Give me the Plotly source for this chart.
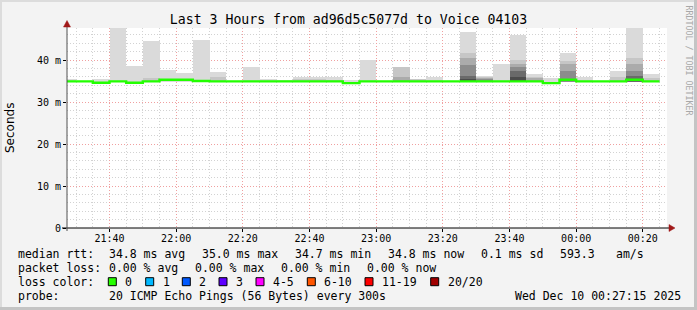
import plotly.graph_objects as go
import pandas as pd

# ---------------- data ----------------
title_text = "Last 3 Hours from ad96d5c5077d to Voice 04103"
step_starts = [
    "2025-12-09 21:25", "2025-12-09 21:30", "2025-12-09 21:35", "2025-12-09 21:40",
    "2025-12-09 21:45", "2025-12-09 21:50", "2025-12-09 21:55", "2025-12-09 22:00",
    "2025-12-09 22:05", "2025-12-09 22:10", "2025-12-09 22:15", "2025-12-09 22:20",
    "2025-12-09 22:25", "2025-12-09 22:30", "2025-12-09 22:35", "2025-12-09 22:40",
    "2025-12-09 22:45", "2025-12-09 22:50", "2025-12-09 22:55", "2025-12-09 23:00",
    "2025-12-09 23:05", "2025-12-09 23:10", "2025-12-09 23:15", "2025-12-09 23:20",
    "2025-12-09 23:25", "2025-12-09 23:30", "2025-12-09 23:35", "2025-12-09 23:40",
    "2025-12-09 23:45", "2025-12-09 23:50", "2025-12-09 23:55", "2025-12-10 00:00",
    "2025-12-10 00:05", "2025-12-10 00:10", "2025-12-10 00:15", "2025-12-10 00:20",
]
step_end = "2025-12-10 00:25"

# median rtt (ms) per step
median_ms = [34.9, 34.9, 34.6, 34.9, 34.6, 34.9, 35.3, 35.3, 35.0, 34.9, 34.9, 34.9,
             34.9, 34.9, 34.9, 34.9, 34.9, 34.5, 34.9, 34.9, 34.9, 34.9, 34.9, 34.9,
             34.9, 34.9, 34.9, 34.9, 34.9, 34.5, 35.3, 34.9, 34.9, 34.9, 35.3, 34.9]

# smoke bottom (ms)
smoke_min = [34.7] * 36

# smoke layer tops (ms), outermost (lightest) to innermost (darkest); None = no smoke
smoke_l1 = [35.5, None, 35.5, 47.8, 38.6, 44.6, 37.7, 37.0, 44.8, 37.2, None, 38.3,
            35.5, 35.3, 36.0, 36.0, 36.0, 35.3, 39.9, None, 38.4, 35.5, 35.9, None,
            46.6, 36.3, 39.0, 45.9, 36.6, 35.8, 41.6, 35.9, None, 37.5, 47.8, 36.7]
smoke_l2 = [None, None, None, None, None, 35.6, None, None, None, 35.9, None, None,
            None, None, 35.5, 35.5, 35.3, None, None, None, 38.3, 35.4, None, None,
            41.7, 36.0, None, 39.9, 36.0, None, 39.8, None, None, 36.0, 40.5, 35.8]
smoke_l3 = [None, None, None, None, None, None, None, None, None, None, None, None,
            None, None, None, None, None, None, None, None, 36.0, None, None, None,
            40.5, 35.7, None, 39.0, 35.6, None, 39.0, None, None, None, 39.0, None]
smoke_l4 = [None, None, None, None, None, None, None, None, None, None, None, None,
            None, None, None, None, None, None, None, None, None, None, None, None,
            38.7, 35.4, None, 38.3, None, None, 37.4, None, None, None, 37.4, None]
smoke_l5 = [None, None, None, None, None, None, None, None, None, None, None, None,
            None, None, None, None, None, None, None, None, None, None, None, None,
            36.1, None, None, 37.5, None, None, None, None, None, None, 36.3, None]
smoke_l6 = [None, None, None, None, None, None, None, None, None, None, None, None,
            None, None, None, None, None, None, None, None, None, None, None, None,
            35.5, None, None, 36.0, None, None, None, None, None, None, None, None]

y_tick_vals = [0, 10, 20, 30, 40]
y_tick_text = ["0", "10 m", "20 m", "30 m", "40 m"]
x_range = ["2025-12-09 21:27:15", "2025-12-10 00:27:15"]

legend_rows = [
    ("median rtt:", [("34.8 ms avg", 107), ("35.0 ms max", 200), ("34.7 ms min", 293),
                     ("34.8 ms now", 386), ("0.1 ms sd", 479), ("593.3", 558), ("am/s", 614)]),
    ("packet loss:", [("0.00 % avg", 107), ("0.00 % max", 193), ("0.00 % min", 279),
                      ("0.00 % now", 365)]),
]
loss_labels = ["0", "1", "2", "3", "4-5", "6-10", "11-19", "20/20"]
loss_colors = ["#26ff00", "#00b8ff", "#0059ff", "#5e00ff", "#ff00ff", "#ff5500", "#ff0000", "#a00000"]
probe_text = "20 ICMP Echo Pings (56 Bytes) every 300s"
date_text = "Wed Dec 10 00:27:15 2025"

# ---------------- layout geometry ----------------
W, H = 697, 310
L, R, T, B = 67, 30, 28, 82
PW, PH = W - L - R, H - T - B
MONO = "DejaVu Sans Mono"


def px(xp):
    return (xp - L) / PW


def py(yp):
    return (H - B - yp) / PH


starts = pd.to_datetime(step_starts)
centers = starts + pd.Timedelta(minutes=2.5)

fig = go.Figure()
layer_sets = [smoke_l1, smoke_l2, smoke_l3, smoke_l4, smoke_l5, smoke_l6]
layer_cols = ["#dadada", "#c6c6c6", "#ababab", "#8c8c8c", "#6a6a6a", "#4c4c4c"]
for tops, col in zip(layer_sets, layer_cols):
    heights = [None if t is None else t - b for t, b in zip(tops, smoke_min)]
    fig.add_trace(go.Bar(
        x=centers, y=heights, base=smoke_min, width=300000,
        marker=dict(color=col, line=dict(width=0)),
        hoverinfo="skip", showlegend=False))

fig.add_trace(go.Scatter(
    x=list(starts) + [pd.Timestamp(step_end)], y=median_ms + [median_ms[-1]],
    mode="lines", line=dict(color="#22ff00", width=2.4, shape="hv"),
    showlegend=False, hoverinfo="skip"))

grid_minor = "#d2d2d2"
grid_major = "#f0a0a0"
fig.update_layout(
    width=W, height=H, margin=dict(l=L, r=R, t=T, b=B),
    paper_bgcolor="#f3f3f3", plot_bgcolor="#ffffff",
    barmode="overlay", bargap=0, showlegend=False,
    font=dict(family=MONO, size=10, color="#000000"),
    xaxis=dict(
        type="date", range=x_range, tickformat="%H:%M",
        tick0="2025-12-09 21:40", dtick=20 * 60 * 1000,
        showgrid=True, gridcolor=grid_major, griddash="1px,2px", gridwidth=1,
        ticks="outside", ticklen=3, tickcolor="#000000", ticklabelstandoff=-2,
        tickfont=dict(family=MONO, size=10),
        minor=dict(dtick=5 * 60 * 1000, tick0="2025-12-09 21:40", showgrid=True,
                   gridcolor=grid_minor, griddash="1px,2px", ticks=""),
        showline=False, zeroline=False, fixedrange=True,
    ),
    yaxis=dict(
        range=[0, PH / 4.2], tickmode="array", tickvals=y_tick_vals, ticktext=y_tick_text,
        showgrid=True, gridcolor=grid_major, griddash="1px,2px",
        ticks="outside", ticklen=3, tickcolor="#000000",
        tickfont=dict(family=MONO, size=10),
        minor=dict(tickmode="linear", tick0=0, dtick=2, showgrid=True,
                   gridcolor=grid_minor, griddash="1px,2px", ticks=""),
        showline=False, zeroline=False, fixedrange=True,
    ),
    title=dict(text=title_text, x=0.5, xanchor="center", y=1 - 19 / H, yanchor="middle",
               font=dict(family=MONO, size=13.2, color="#000000")),
)

shapes = []
# 3D frame
shapes.append(dict(type="rect", xref="paper", yref="paper", x0=px(0), x1=px(W), y0=py(0), y1=py(2),
                   fillcolor="#dcdcdc", line=dict(width=0), layer="below"))
shapes.append(dict(type="rect", xref="paper", yref="paper", x0=px(0), x1=px(2), y0=py(0), y1=py(H),
                   fillcolor="#dcdcdc", line=dict(width=0), layer="below"))
shapes.append(dict(type="rect", xref="paper", yref="paper", x0=px(0), x1=px(W), y0=py(H - 3), y1=py(H),
                   fillcolor="#c4c4c4", line=dict(width=0), layer="below"))
shapes.append(dict(type="rect", xref="paper", yref="paper", x0=px(W - 3), x1=px(W), y0=py(0), y1=py(H),
                   fillcolor="#c4c4c4", line=dict(width=0), layer="below"))
# axis lines
shapes.append(dict(type="line", xref="paper", yref="paper", x0=px(62), x1=px(670), y0=0, y1=0,
                   line=dict(color="#000000", width=1)))
shapes.append(dict(type="line", xref="paper", yref="paper", x0=0, x1=0, y0=py(231), y1=py(24),
                   line=dict(color="#505050", width=1)))
# arrow heads
shapes.append(dict(type="path", xref="paper", yref="paper",
                   path=f"M {px(63.5)} {py(27)} L {px(70.5)} {py(27)} L {px(67)} {py(20.5)} Z",
                   fillcolor="#a01818", line=dict(color="#a01818", width=0.5)))
shapes.append(dict(type="path", xref="paper", yref="paper",
                   path=f"M {px(669)} {py(224.5)} L {px(669)} {py(231.5)} L {px(675)} {py(228)} Z",
                   fillcolor="#a01818", line=dict(color="#a01818", width=0.5)))

ann = []
LEG = 11.5
row_y = [254, 268.3, 281.7, 296]
for (label, items), yy in zip(legend_rows, row_y[:2]):
    ann.append(dict(text=label, x=px(16), y=py(yy)))
    for txt, xx in items:
        ann.append(dict(text=txt, x=px(xx), y=py(yy)))
ann.append(dict(text="loss color:", x=px(16), y=py(row_y[2])))
box_x = [108.3, 145.7, 182.3, 219, 256, 307.3, 365, 430.7]
for lab, col, bx in zip(loss_labels, loss_colors, box_x):
    shapes.append(dict(type="rect", xref="paper", yref="paper",
                       x0=px(bx), x1=px(bx + 8), y0=py(row_y[2] + 4), y1=py(row_y[2] - 4),
                       fillcolor=col, line=dict(color="#000000", width=1)))
    ann.append(dict(text=lab, x=px(bx + 15), y=py(row_y[2])))
ann.append(dict(text="probe:", x=px(16), y=py(row_y[3])))
ann.append(dict(text=probe_text, x=px(107), y=py(row_y[3])))
ann.append(dict(text=date_text, x=px(513), y=py(row_y[3])))

annotations = []
for a in ann:
    a.update(xref="paper", yref="paper", xanchor="left", yanchor="middle", showarrow=False,
             font=dict(family=MONO, size=LEG, color="#000000"))
    annotations.append(a)
annotations.append(dict(text="Seconds", xref="paper", yref="paper", x=px(10), y=py(128),
                        xanchor="center", yanchor="middle", textangle=-90, showarrow=False,
                        font=dict(family="DejaVu Sans", size=12, color="#000000")))
annotations.append(dict(text="RRDTOOL / TOBI OETIKER", xref="paper", yref="paper", x=px(688.5), y=py(60),
                        xanchor="center", yanchor="middle", textangle=90, showarrow=False,
                        font=dict(family=MONO, size=8.3, color="#a8a8a8")))

fig.update_layout(shapes=shapes, annotations=annotations)
fig.write_html("out.html")
